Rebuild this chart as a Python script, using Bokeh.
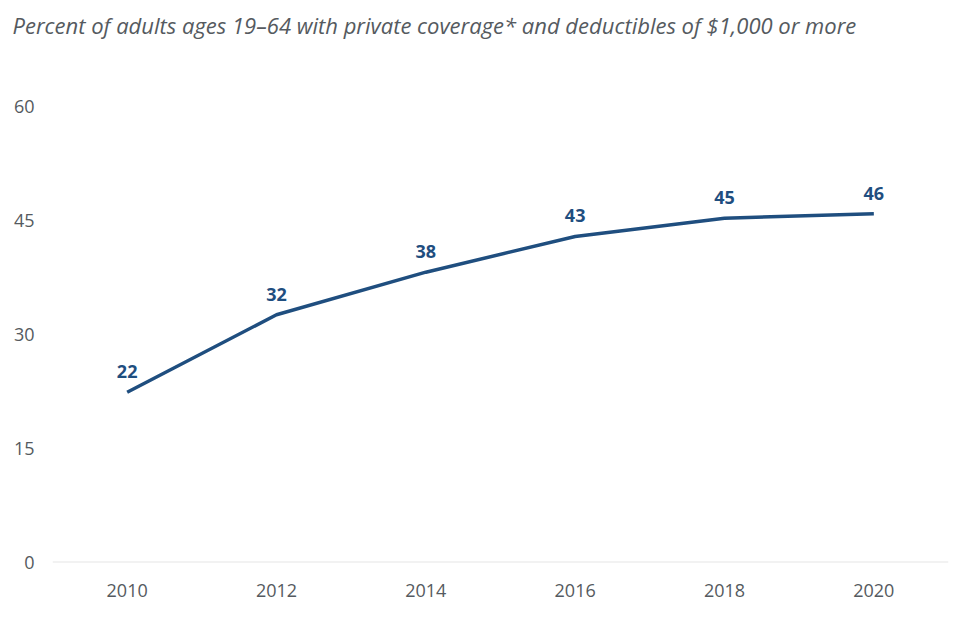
from bokeh.plotting import figure
from bokeh.models import ColumnDataSource, Range1d, FixedTicker, Title
from bokeh.core.properties import value
from bokeh.embed import file_html
from bokeh.resources import INLINE

years = [2010, 2012, 2014, 2016, 2018, 2020]
percent = [22.4, 32.6, 38.2, 42.9, 45.3, 45.9]
labels = ["22", "32", "38", "43", "45", "46"]
y_ticks = [0, 15, 30, 45, 60]
title_text = "Percent of adults ages 19\u201364 with private coverage* and deductibles of $1,000 or more"

FONT = "Open Sans"
LINE_COLOR = "#1f4e7f"
TEXT_COLOR = "#555a60"

src = ColumnDataSource(dict(x=years, y=percent, label=labels))

p = figure(width=960, height=617, output_backend="svg", toolbar_location=None,
           x_range=Range1d(2009, 2021), y_range=Range1d(0, 60),
           min_border_left=52, min_border_right=12, min_border_top=0, min_border_bottom=55)
p.outline_line_color = None
p.background_fill_color = "white"
p.border_fill_color = "white"
p.xgrid.grid_line_color = None
p.ygrid.grid_line_color = None

p.line(x="x", y="y", source=src, line_color=LINE_COLOR, line_width=3.5)
p.text(x="x", y="y", text="label", source=src, text_font=value(FONT), text_font_style="bold",
       text_font_size="18px", text_color=LINE_COLOR, text_align="center",
       text_baseline="bottom", y_offset=-14)

# baseline at 0
p.segment(x0=[2009], y0=[0], x1=[2021], y1=[0], line_color="#e6e6e6", line_width=2)

p.xaxis.ticker = FixedTicker(ticks=years)
p.yaxis.ticker = FixedTicker(ticks=y_ticks)
for ax in (p.xaxis[0], p.yaxis[0]):
    ax.axis_line_color = None
    ax.major_tick_line_color = None
    ax.minor_tick_line_color = None
    ax.major_tick_out = 0
    ax.major_tick_in = 0
    ax.minor_tick_out = 0
    ax.major_label_text_font = FONT
    ax.major_label_text_font_size = "18px"
    ax.major_label_text_color = TEXT_COLOR
p.xaxis.major_label_standoff = 21
p.yaxis.major_label_standoff = 18

spacer = Title(text=" ", standoff=44, text_font_size="12px", text_color="white")
p.add_layout(spacer, "above")
t = Title(text=title_text, align="left", offset=-40, standoff=14,
          text_font=FONT, text_font_style="italic", text_font_size="22px",
          text_color=TEXT_COLOR)
p.add_layout(t, "above")

open("out.html", "w").write(file_html(p, INLINE))
